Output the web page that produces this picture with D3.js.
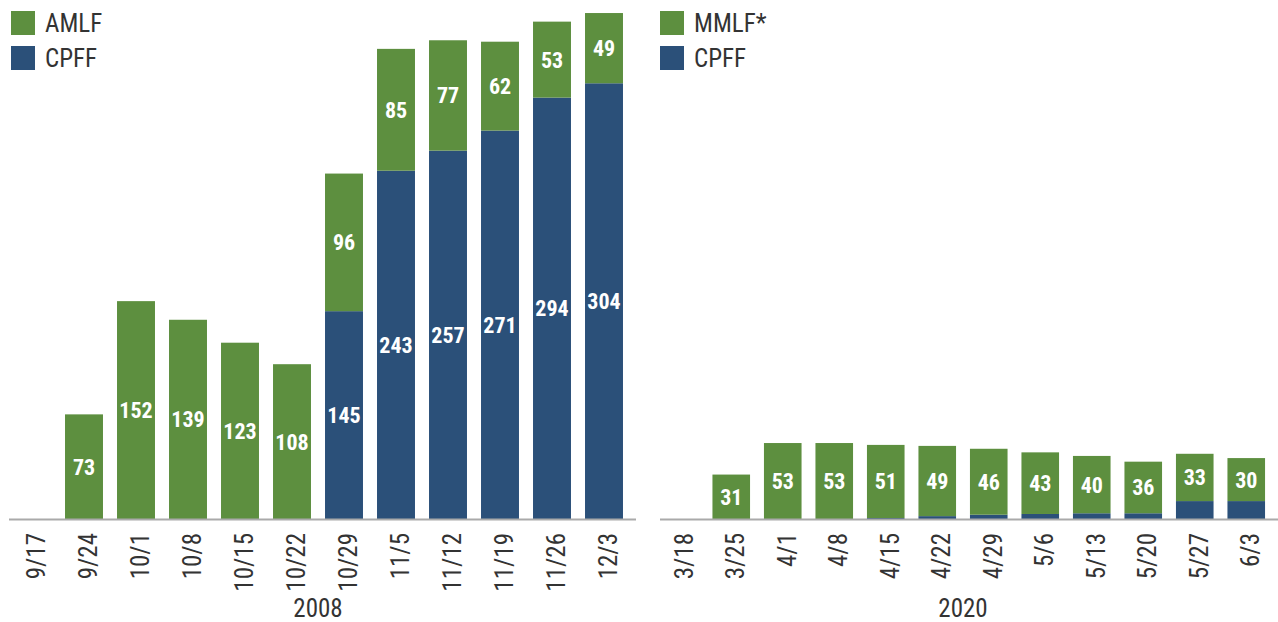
<!DOCTYPE html>
<html>
<head>
<meta charset="utf-8">
<script src="https://cdn.jsdelivr.net/npm/d3@7"></script>
<style>
  body { margin: 0; background: #fff; }
  svg text { font-family: "Roboto Condensed", "DejaVu Sans Condensed", "Roboto", sans-serif; font-stretch: condensed; }
</style>
</head>
<body>
<div id="chart"></div>
<script>
// -------------------------------------------------------------------------
// Data

const weeks2008 = ['9/17', '9/24', '10/1', '10/8', '10/15', '10/22', '10/29', '11/5', '11/12', '11/19', '11/26', '12/3'];
const amlf2008 = [0, 73, 152, 139, 123, 108, 96, 85, 77, 62, 53, 49];
const cpff2008 = [0, 0, 0, 0, 0, 0, 145, 243, 257, 271, 294, 304];

const weeks2020 = ['3/18', '3/25', '4/1', '4/8', '4/15', '4/22', '4/29', '5/6', '5/13', '5/20', '5/27', '6/3'];
const mmlf2020 = [0, 31, 53, 53, 51, 49, 46, 43, 40, 36, 33, 30];
const cpff2020 = [0, 0, 0, 0, 0.7, 2, 3, 3.5, 4, 4, 12.5, 12.5];

// -------------------------------------------------------------------------
// Settings

const width = 1278;
const height = 622;
const green = '#5d8f3f';
const blue = '#2b5079';
const textColor = '#333';
const baseline = 519;

const svg = d3.select('#chart').append('svg')
  .attr('width', width)
  .attr('height', height);

const y = d3.scaleLinear().domain([0, 360]).range([baseline, 3]);

function drawPanel(opts) {
  const x = d3.scaleBand()
    .domain(opts.weeks)
    .range(opts.range)
    .paddingInner(0.27)
    .paddingOuter(0.135);

  const g = svg.append('g');

  const rows = opts.weeks.map((w, i) => ({ week: w, top: opts.top[i], bottom: opts.bottom[i] }));

  // bottom series (CPFF)
  g.selectAll('.bottom')
    .data(rows.filter(d => d.bottom > 0))
    .enter().append('rect')
    .attr('class', 'bottom')
    .attr('x', d => x(d.week))
    .attr('y', d => y(d.bottom))
    .attr('width', x.bandwidth())
    .attr('height', d => baseline - y(d.bottom))
    .style('fill', blue);

  // top series (AMLF / MMLF)
  g.selectAll('.top')
    .data(rows.filter(d => d.top > 0))
    .enter().append('rect')
    .attr('class', 'top')
    .attr('x', d => x(d.week))
    .attr('y', d => y(d.bottom + d.top))
    .attr('width', x.bandwidth())
    .attr('height', d => y(d.bottom) - y(d.bottom + d.top))
    .style('fill', green);

  // value labels
  g.selectAll('.top-label')
    .data(rows.filter(d => d.top > 0))
    .enter().append('text')
    .attr('x', d => x(d.week) + x.bandwidth() / 2)
    .attr('y', d => (y(d.bottom) + y(d.bottom + d.top)) / 2)
    .attr('dy', '0.36em')
    .attr('text-anchor', 'middle')
    .style('font-size', '22px')
    .style('font-weight', 'bold')
    .style('fill', '#fff')
    .text(d => Math.round(d.top));

  if (opts.labelBottom) {
    g.selectAll('.bottom-label')
      .data(rows.filter(d => d.bottom > 0))
      .enter().append('text')
      .attr('x', d => x(d.week) + x.bandwidth() / 2)
      .attr('y', d => (baseline + y(d.bottom)) / 2)
      .attr('dy', '0.36em')
      .attr('text-anchor', 'middle')
      .style('font-size', '22px')
      .style('font-weight', 'bold')
      .style('fill', '#fff')
      .text(d => Math.round(d.bottom));
  }

  // axis
  const axis = g.append('g')
    .attr('transform', `translate(0,${baseline})`)
    .call(d3.axisBottom(x).tickSize(0).tickPadding(0));
  axis.select('.domain')
    .attr('d', `M${opts.axisRange[0]},0.5H${opts.axisRange[1]}`)
    .style('stroke', '#aaa')
    .style('stroke-width', 2);
  axis.selectAll('.tick text')
    .attr('transform', 'rotate(-90)')
    .attr('x', -14)
    .attr('y', 4)
    .attr('dy', '0.35em')
    .attr('text-anchor', 'end')
    .style('font-size', '25px')
    .style('font-family', null)
    .style('fill', textColor);

  // year label
  g.append('text')
    .attr('x', (opts.range[0] + opts.range[1]) / 2)
    .attr('y', 617)
    .attr('text-anchor', 'middle')
    .style('font-size', '25px')
    .style('fill', textColor)
    .text(opts.year);

  // legend
  const legend = g.append('g').attr('transform', `translate(${opts.legendX},11)`);
  [[opts.topName, green], ['CPFF', blue]].forEach((item, i) => {
    legend.append('rect')
      .attr('x', 0)
      .attr('y', i * 35)
      .attr('width', 24)
      .attr('height', 24)
      .style('fill', item[1]);
    legend.append('text')
      .attr('x', 34)
      .attr('y', i * 35 + 12)
      .attr('dy', '0.36em')
      .style('font-size', '25px')
      .style('fill', textColor)
      .text(item[0]);
  });
}

drawPanel({
  weeks: weeks2008, top: amlf2008, bottom: cpff2008,
  range: [6, 630], axisRange: [9, 636], year: '2008',
  topName: 'AMLF', legendX: 11, labelBottom: true
});

drawPanel({
  weeks: weeks2020, top: mmlf2020, bottom: cpff2020,
  range: [654, 1272], axisRange: [660, 1278], year: '2020',
  topName: 'MMLF*', legendX: 660, labelBottom: false
});
</script>
</body>
</html>
